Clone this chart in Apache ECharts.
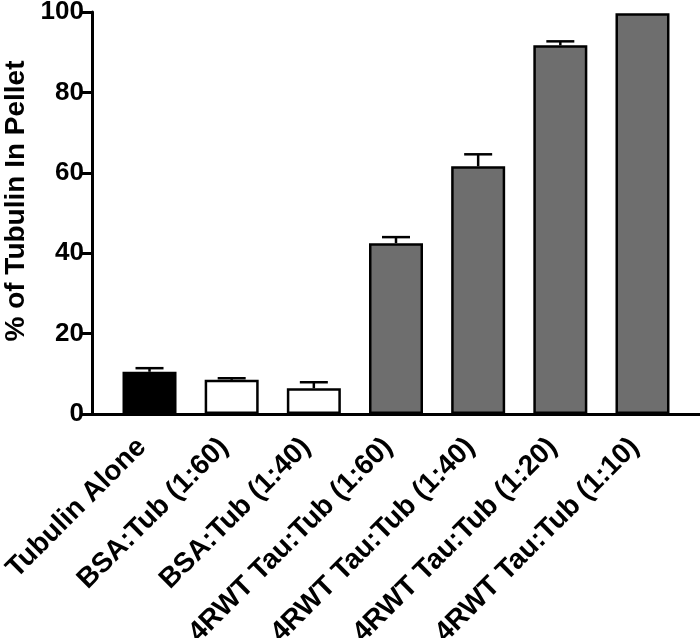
<!DOCTYPE html>
<html>
<head>
<meta charset="utf-8">
<script src="https://cdn.jsdelivr.net/npm/echarts@6/dist/echarts.min.js"></script>
<style>
  html, body { margin: 0; padding: 0; background: #fff; }
  #chart { width: 700px; height: 638px; }
</style>
</head>
<body>
<div id="chart"></div>
<script>
// data
var categories = ['Tubulin Alone', 'BSA:Tub (1:60)', 'BSA:Tub (1:40)', '4RWT Tau:Tub (1:60)', '4RWT Tau:Tub (1:40)', '4RWT Tau:Tub (1:20)', '4RWT Tau:Tub (1:10)']
var pelletPct = [10.5, 8.5, 6.4, 42.5, 61.6, 91.7, 99.7]
var pelletSem = [0.9, 0.4, 1.5, 1.5, 3.0, 1.0, 0]
var barFills = ['#000000', '#ffffff', '#ffffff', '#6e6e6e', '#6e6e6e', '#6e6e6e', '#6e6e6e']
var yTicks = [0, 20, 40, 60, 80, 100]

var font = 'Liberation Sans, Arial, sans-serif'
var chart = echarts.init(document.getElementById('chart'))

var barData = pelletPct.map(function (v, i) {
  return { value: [i, v], itemStyle: { color: barFills[i] } }
})
var errData = pelletPct.map(function (v, i) {
  return [i, v, v + pelletSem[i]]
})

var option = {
  animation: false,
  grid: { left: 92, right: 0, top: 12, bottom: 224, containLabel: false, outerBoundsMode: 'none' },
  xAxis: {
    type: 'value',
    min: -0.7,
    max: 6.7,
    axisLine: { show: true, onZero: false, lineStyle: { color: '#000', width: 3 } },
    axisTick: { show: false },
    splitLine: { show: false },
    axisLabel: {
      customValues: [0, 1, 2, 3, 4, 5, 6],
      rotate: 45,
      margin: 21,
      padding: [0, 11, 0, 0],
      color: '#000',
      fontFamily: font,
      fontWeight: 'bold',
      fontSize: 28,
      formatter: function (v) { return categories[Math.round(v)] || '' }
    }
  },
  yAxis: {
    type: 'value',
    min: yTicks[0],
    max: yTicks[yTicks.length - 1],
    interval: 20,
    name: '% of Tubulin In Pellet',
    nameLocation: 'middle',
    nameRotate: 90,
    nameGap: 62,
    nameMoveOverlap: false,
    nameTextStyle: { color: '#000', fontFamily: font, fontWeight: 'bold', fontSize: 28, padding: [0, 0, 0, 24] },
    axisLine: { show: true, onZero: false, lineStyle: { color: '#000', width: 3 } },
    axisTick: { show: true, length: 10, lineStyle: { color: '#000', width: 3 } },
    splitLine: { show: false },
    axisLabel: { margin: 8, color: '#000', fontFamily: font, fontWeight: 'bold', fontSize: 26 }
  },
  series: [
    {
      type: 'bar',
      data: barData,
      barWidth: 54,
      itemStyle: { borderColor: '#000', borderWidth: 2.5 },
      z: 2
    },
    {
      type: 'custom',
      data: errData,
      z: 3,
      renderItem: function (params, api) {
        var top = api.value(2)
        if (top <= api.value(1)) return null
        var base = api.coord([api.value(0), api.value(1)])
        var tip = api.coord([api.value(0), top])
        var half = 14
        return {
          type: 'group',
          children: [
            { type: 'line', shape: { x1: base[0], y1: base[1], x2: tip[0], y2: tip[1] }, style: { stroke: '#000', lineWidth: 2.5 } },
            { type: 'line', shape: { x1: tip[0] - half, y1: tip[1], x2: tip[0] + half, y2: tip[1] }, style: { stroke: '#000', lineWidth: 2.5 } }
          ]
        }
      }
    }
  ]
}
chart.setOption(option)
</script>
</body>
</html>
